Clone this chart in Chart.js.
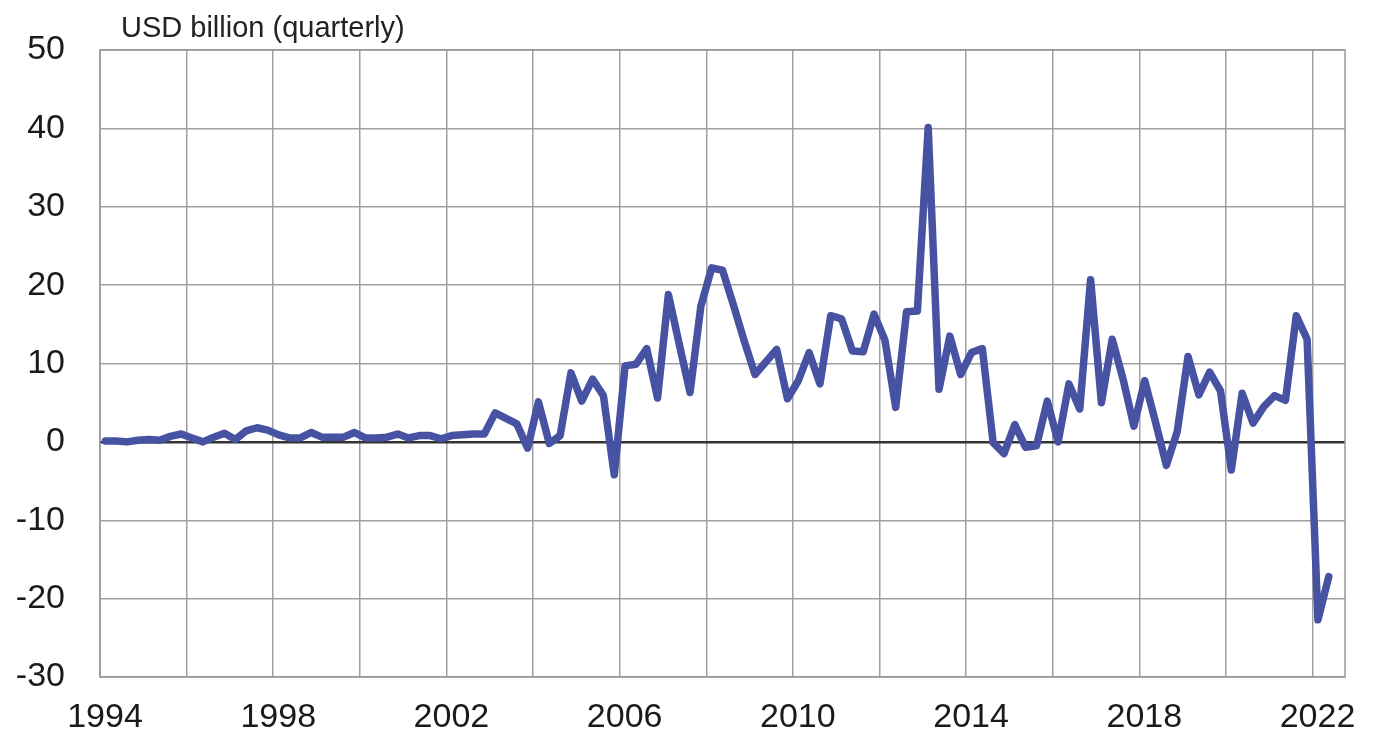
<!DOCTYPE html>
<html>
<head>
<meta charset="utf-8">
<script src="https://cdn.jsdelivr.net/npm/chart.js@4/dist/chart.umd.min.js"></script>
<style>
  html, body { margin: 0; padding: 0; background: #fff; }
  #wrap { width: 1375px; height: 738px; position: relative; }
</style>
</head>
<body>
<div id="wrap"><canvas id="chart"></canvas></div>
<script>
// Datos trimestrales, USD billion
const firstYear = 1994;
const unitLabel = 'USD billion (quarterly)';

// 1994Q1 – 2002Q4
const values1994to2002 = [
  0.1, 0.1, 0.0, 0.2, 0.3, 0.2, 0.7, 1.0, 0.5, 0.0, 0.6, 1.1,
  0.3, 1.4, 1.8, 1.5, 0.9, 0.5, 0.5, 1.2, 0.6, 0.6, 0.6, 1.2,
  0.5, 0.5, 0.6, 1.0, 0.5, 0.8, 0.8, 0.4, 0.8, 0.9, 1.0, 1.0
];
// 2003Q1 – 2012Q4
const values2003to2012 = [
  3.7, 3.0, 2.3, -0.8, 5.1, -0.2, 0.8, 8.8, 5.2, 8.0, 5.9, -4.2,
  9.7, 9.9, 11.9, 5.6, 18.8, 12.5, 6.3, 17.3, 22.2, 21.9, 17.5, 12.9,
  8.6, 10.2, 11.8, 5.5, 7.8, 11.4, 7.4, 16.1, 15.7, 11.6, 11.5, 16.3,
  13.0, 4.4, 16.6, 16.7
];
// 2013Q1 – 2022Q2
const values2013to2022 = [
  40.1, 6.7, 13.5, 8.6, 11.4, 11.9, -0.1, -1.5, 2.2, -0.7, -0.5, 5.2,
  0.0, 7.4, 4.2, 20.7, 5.0, 13.1, 8.0, 2.0, 7.8, 2.5, -3.0, 1.3,
  10.9, 6.0, 8.9, 6.5, -3.6, 6.2, 2.4, 4.5, 5.9, 5.3, 16.1, 13.1,
  -22.7, -17.2
];

const gridYears = [1994, 1996, 1998, 2000, 2002, 2004, 2006, 2008, 2010, 2012, 2014, 2016, 2018, 2020, 2022];
const labelYears = [1994, 1998, 2002, 2006, 2010, 2014, 2018, 2022];
const yTicks = [-30, -20, -10, 0, 10, 20, 30, 40, 50];

const values = [].concat(values1994to2002, values2003to2012, values2013to2022);
// cada trimestre se dibuja en el centro de su categoría
const points = values.map((v, i) => ({ x: firstYear + (i + 0.5) / 4, y: v }));

const FONT = '"Liberation Sans", Arial, sans-serif';

// Helper: título de unidades + marco del área
const framePlugin = {
  id: 'frame',
  beforeDatasetsDraw(chart) {
    const { ctx, chartArea: a } = chart;
    ctx.save();
    ctx.strokeStyle = '#999';
    ctx.lineWidth = 1.5;
    ctx.strokeRect(a.left, a.top, a.right - a.left, a.bottom - a.top);
    ctx.restore();
  },
  afterDraw(chart) {
    const { ctx, chartArea: a } = chart;
    ctx.save();
    ctx.font = '29px ' + FONT;
    ctx.fillStyle = '#222';
    ctx.textBaseline = 'alphabetic';
    ctx.fillText(unitLabel, a.left + 21, a.top - 13);
    ctx.restore();
  }
};

Chart.defaults.font.family = FONT;
Chart.defaults.color = '#1a1a1a';

new Chart(document.getElementById('chart').getContext('2d'), {
  type: 'line',
  data: {
    datasets: [{
      data: points,
      borderColor: '#4752a2',
      borderWidth: 7.5,
      pointRadius: 0,
      tension: 0,
      fill: false,
      borderJoinStyle: 'round',
      borderCapStyle: 'round'
    }]
  },
  options: {
    responsive: true,
    maintainAspectRatio: false,
    animation: false,
    layout: { padding: { top: 50, right: 30, left: 0, bottom: 0 } },
    plugins: { legend: { display: false }, tooltip: { enabled: false } },
    scales: {
      x: {
        type: 'linear',
        min: 1994,
        max: 2022.75,
        afterBuildTicks(scale) { scale.ticks = gridYears.map(v => ({ value: v })); },
        afterFit(scale) { scale.height = 61; },
        ticks: {
          autoSkip: false,
          maxRotation: 0,
          padding: 20,
          labelOffset: 5,
          font: { size: 34 },
          callback: v => labelYears.includes(v) ? String(v) : ''
        },
        grid: { color: '#a0a0a0', lineWidth: 1.5, drawTicks: false },
        border: { display: false }
      },
      y: {
        min: -30,
        max: 50,
        afterBuildTicks(scale) { scale.ticks = yTicks.map(v => ({ value: v })); },
        afterFit(scale) {
          scale.width = 100;
          scale.paddingTop = 20;
          scale.paddingBottom = 20;
        },
        ticks: { padding: 35, font: { size: 34 } },
        grid: {
          drawTicks: false,
          color: c => c.tick && c.tick.value === 0 ? '#333' : '#a0a0a0',
          lineWidth: c => c.tick && c.tick.value === 0 ? 2.5 : 1.5
        },
        border: { display: false }
      }
    }
  },
  plugins: [framePlugin]
});
</script>
</body>
</html>
